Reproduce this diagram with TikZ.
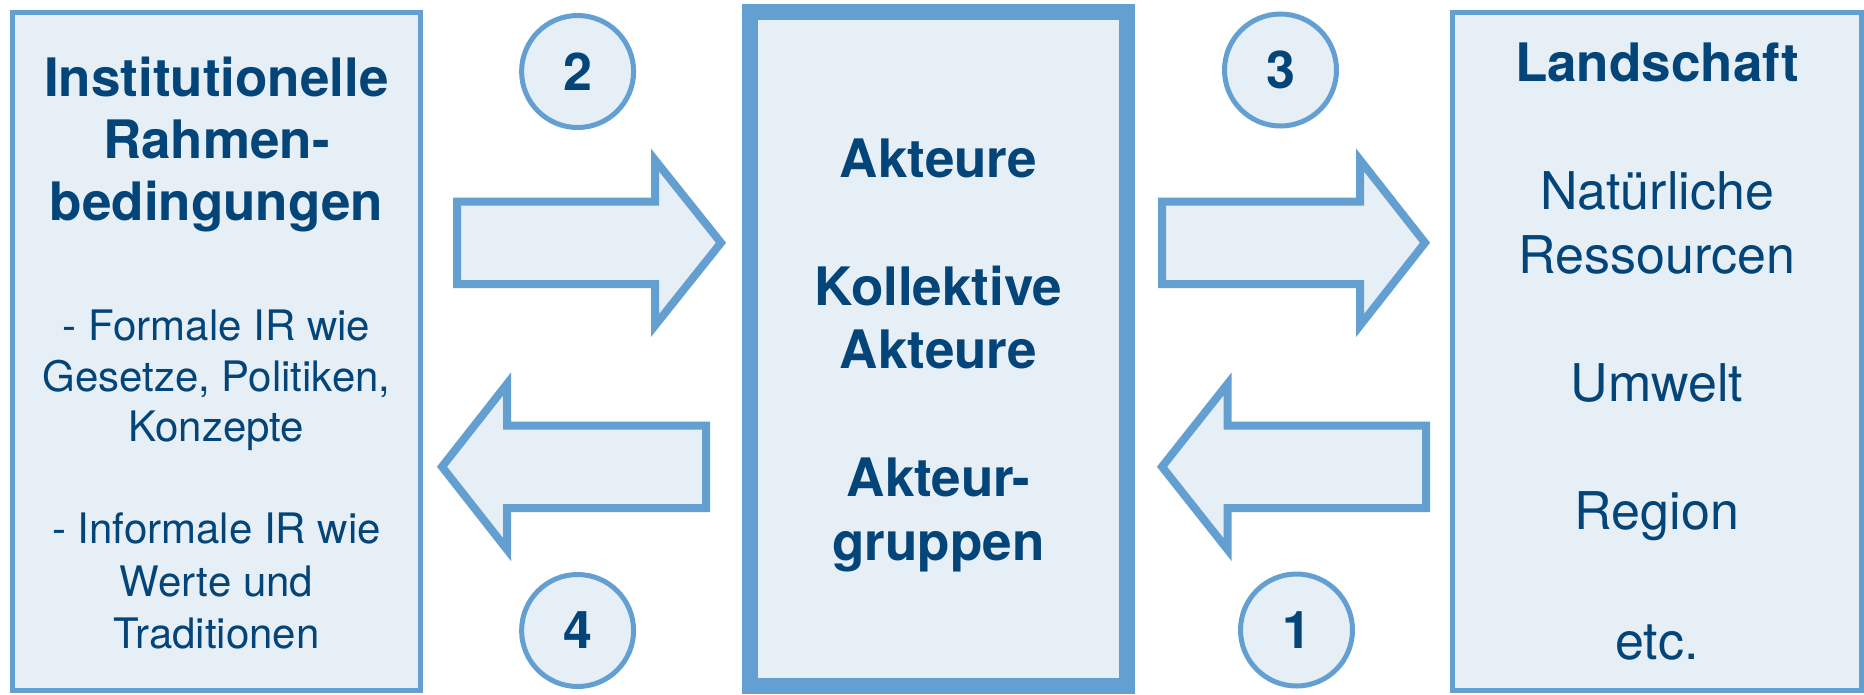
\documentclass[tikz,border=0pt]{standalone}
\usepackage{fontspec}
\setmainfont{TeX Gyre Heros}
\definecolor{bordercol}{RGB}{99,159,208}
\definecolor{fillcol}{RGB}{230,238,246}
\definecolor{txtcol}{RGB}{3,68,121}
\begin{document}
\begin{tikzpicture}[x=1pt,y=-1pt,
  panel/.style={rectangle, draw=bordercol, fill=fillcol, line width=5pt, inner sep=0pt, outer sep=0pt},
  numcirc/.style={circle, draw=bordercol, fill=fillcol, line width=5pt, minimum size=112pt, inner sep=0pt, text=txtcol, font=\fontsize{52}{60}\selectfont\bfseries},
  blockarrow/.style={draw=bordercol, fill=fillcol, line width=8pt},
  ttl/.style={anchor=base, inner sep=0pt, text=txtcol, font=\fontsize{53}{62}\selectfont\bfseries},
  lreg/.style={anchor=base, inner sep=0pt, text=txtcol, font=\fontsize{42}{50}\selectfont},
  rreg/.style={anchor=base, inner sep=0pt, text=txtcol, font=\fontsize{52}{62}\selectfont}
]
\useasboundingbox (0,0) rectangle (1864,694);

% panels
\node[panel, minimum width=408pt, minimum height=678pt] (inst) at (216.5,351.5) {};
\node[panel, line width=15.5pt, minimum width=377pt, minimum height=674pt] (akt) at (938.5,349) {};
\node[panel, minimum width=409pt, minimum height=678pt] (land) at (1657,351.5) {};

% left panel text
\node[ttl] (i1) at (216.5,96) {Institutionelle};
\node[ttl] (i2) at (216.5,158) {Rahmen-};
\node[ttl] (i3) at (216.5,220) {bedingungen};
\node[lreg] (i4) at (216.5,340) {- Formale IR wie};
\node[lreg] (i5) at (216.5,391.5) {Gesetze, Politiken,};
\node[lreg] (i6) at (216.5,441.5) {Konzepte};
\node[lreg] (i7) at (216.5,543) {- Informale IR wie};
\node[lreg] (i8) at (216.5,596.5) {Werte und};
\node[lreg] (i9) at (216.5,648) {Traditionen};

% middle panel text
\node[ttl] (a1) at (938.5,177) {Akteure};
\node[ttl] (a2) at (938.5,305) {Kollektive};
\node[ttl] (a3) at (938.5,368.5) {Akteure};
\node[ttl] (a4) at (938.5,496.5) {Akteur-};
\node[ttl] (a5) at (938.5,560) {gruppen};

% right panel text
\node[ttl] (l1) at (1657,81) {Landschaft};
\node[rreg] (l2) at (1657,209) {Natürliche};
\node[rreg] (l3) at (1657,273) {Ressourcen};
\node[rreg] (l4) at (1657,401) {Umwelt};
\node[rreg] (l5) at (1657,529) {Region};
\node[rreg] (l6) at (1657,659) {etc.};

% block arrows
\draw[blockarrow] (457,201.5) -- (655,201.5) -- (655,160) -- (721,242.75) -- (655,325.5) -- (655,284) -- (457,284) -- cycle;
\draw[blockarrow] (1162,201.5) -- (1360,201.5) -- (1360,160) -- (1425,242.75) -- (1360,325.5) -- (1360,284) -- (1162,284) -- cycle;
\draw[blockarrow] (706,425.5) -- (507,425.5) -- (507,384) -- (442,466.75) -- (507,549.5) -- (507,508) -- (706,508) -- cycle;
\draw[blockarrow] (1426,425.5) -- (1227.5,425.5) -- (1227.5,384) -- (1162,466.75) -- (1227.5,549.5) -- (1227.5,508) -- (1426,508) -- cycle;

% numbered circles
\node[numcirc] (n2) at (577.6,71.5) {2};
\node[numcirc] (n3) at (1280.5,70) {3};
\node[numcirc] (n4) at (577.6,630.5) {4};
\node[numcirc] (n1) at (1296.5,630) {1};
\end{tikzpicture}
\end{document}
